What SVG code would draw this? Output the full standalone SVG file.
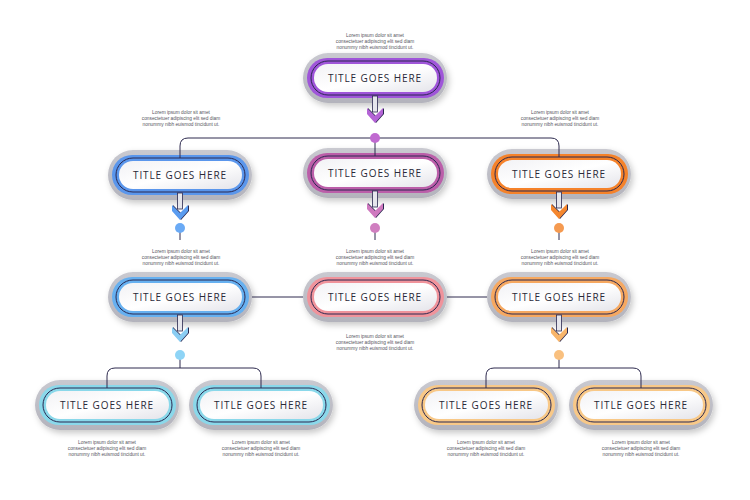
<svg xmlns="http://www.w3.org/2000/svg" xmlns:xlink="http://www.w3.org/1999/xlink" width="750" height="500" viewBox="0 0 750 500">
<style>
.title{font-family:"Open Sans","Liberation Sans",sans-serif;font-size:10px;letter-spacing:0.9px;fill:#2a2a38;text-anchor:middle}
.desc{font-family:"Liberation Sans",Arial,sans-serif;font-size:4.8px;fill:#555560;text-anchor:middle}
.outer{fill:url(#gGray);filter:url(#sh)}
.ring{fill:none;stroke:#2a2850;stroke-width:1}
.inner{fill:url(#gWhite)}
.line{fill:none;stroke:#2e2b4f;stroke-width:1}
</style>
<defs>
<linearGradient id="gGray" x1="0" y1="0" x2="0" y2="1">
<stop offset="0" stop-color="#c9c9d0"/><stop offset="1" stop-color="#b3b3bc"/>
</linearGradient>
<linearGradient id="gWhite" x1="0" y1="0" x2="1" y2="1">
<stop offset="0" stop-color="#f2f2f5"/><stop offset="0.5" stop-color="#ffffff"/><stop offset="1" stop-color="#e4e4ea"/>
</linearGradient>
<filter id="sh" x="-20%" y="-30%" width="140%" height="170%">
<feDropShadow dx="2" dy="3" stdDeviation="3" flood-color="#000" flood-opacity="0.22"/>
</filter>
<g id="arrow">
<rect x="-2.5" y="-2" width="5" height="16" fill="#e6e6ec" stroke="#2a2850" stroke-width="0.8"/>
<polygon points="-7,10 1,18 9,10 9,16 1,25 -7,16" fill="#2a2850"/>
<polygon points="-8,10 0,18 8,10 8,16 0,25 -8,16"/>
</g>
</defs>
<rect width="750" height="500" fill="#ffffff"/>

<g id="n-top">
<rect class="outer" x="303" y="53" width="144" height="50" rx="25"/>
<rect x="307" y="58" width="137" height="40" rx="20" fill="#9f55d9"/>
<rect class="ring" x="311" y="61" width="129" height="34" rx="17"/>
<rect class="inner" x="314" y="64" width="123" height="28" rx="14"/>
<text class="title" x="375" y="81.5">TITLE GOES HERE</text>
</g>
<g id="n-r1-blue">
<rect class="outer" x="108" y="150" width="144" height="50" rx="25"/>
<rect x="112" y="155" width="137" height="40" rx="20" fill="#5a96ec"/>
<rect class="ring" x="116" y="158" width="129" height="34" rx="17"/>
<rect class="inner" x="119" y="161" width="123" height="28" rx="14"/>
<text class="title" x="180" y="178.5">TITLE GOES HERE</text>
</g>
<g id="n-r1-pink">
<rect class="outer" x="303" y="148" width="144" height="50" rx="25"/>
<rect x="307" y="153" width="137" height="40" rx="20" fill="#bb5ea9"/>
<rect class="ring" x="311" y="156" width="129" height="34" rx="17"/>
<rect class="inner" x="314" y="159" width="123" height="28" rx="14"/>
<text class="title" x="375" y="176.5">TITLE GOES HERE</text>
</g>
<g id="n-r1-orange">
<rect class="outer" x="487" y="149" width="144" height="50" rx="25"/>
<rect x="491" y="154" width="137" height="40" rx="20" fill="#f5822a"/>
<rect class="ring" x="495" y="157" width="129" height="34" rx="17"/>
<rect class="inner" x="498" y="160" width="123" height="28" rx="14"/>
<text class="title" x="559" y="177.5">TITLE GOES HERE</text>
</g>
<g id="n-r2-blue">
<rect class="outer" x="108" y="272" width="144" height="50" rx="25"/>
<rect x="112" y="277" width="137" height="40" rx="20" fill="#66b0f0"/>
<rect class="ring" x="116" y="280" width="129" height="34" rx="17"/>
<rect class="inner" x="119" y="283" width="123" height="28" rx="14"/>
<text class="title" x="180" y="300.5">TITLE GOES HERE</text>
</g>
<g id="n-r2-red">
<rect class="outer" x="303" y="272" width="144" height="50" rx="25"/>
<rect x="307" y="277" width="137" height="40" rx="20" fill="#f0939b"/>
<rect class="ring" x="311" y="280" width="129" height="34" rx="17"/>
<rect class="inner" x="314" y="283" width="123" height="28" rx="14"/>
<text class="title" x="375" y="300.5">TITLE GOES HERE</text>
</g>
<g id="n-r2-orange">
<rect class="outer" x="487" y="272" width="144" height="50" rx="25"/>
<rect x="491" y="277" width="137" height="40" rx="20" fill="#f6a860"/>
<rect class="ring" x="495" y="280" width="129" height="34" rx="17"/>
<rect class="inner" x="498" y="283" width="123" height="28" rx="14"/>
<text class="title" x="559" y="300.5">TITLE GOES HERE</text>
</g>
<g id="n-r3-1">
<rect class="outer" x="35" y="380" width="144" height="50" rx="25"/>
<rect x="39" y="385" width="137" height="40" rx="20" fill="#8ad8ea"/>
<rect class="ring" x="43" y="388" width="129" height="34" rx="17"/>
<rect class="inner" x="46" y="391" width="123" height="28" rx="14"/>
<text class="title" x="107" y="408.5">TITLE GOES HERE</text>
</g>
<g id="n-r3-2">
<rect class="outer" x="189" y="380" width="144" height="50" rx="25"/>
<rect x="193" y="385" width="137" height="40" rx="20" fill="#8ad8ea"/>
<rect class="ring" x="197" y="388" width="129" height="34" rx="17"/>
<rect class="inner" x="200" y="391" width="123" height="28" rx="14"/>
<text class="title" x="261" y="408.5">TITLE GOES HERE</text>
</g>
<g id="n-r3-3">
<rect class="outer" x="414" y="380" width="144" height="50" rx="25"/>
<rect x="418" y="385" width="137" height="40" rx="20" fill="#f8c887"/>
<rect class="ring" x="422" y="388" width="129" height="34" rx="17"/>
<rect class="inner" x="425" y="391" width="123" height="28" rx="14"/>
<text class="title" x="486" y="408.5">TITLE GOES HERE</text>
</g>
<g id="n-r3-4">
<rect class="outer" x="569" y="380" width="144" height="50" rx="25"/>
<rect x="573" y="385" width="137" height="40" rx="20" fill="#f8c887"/>
<rect class="ring" x="577" y="388" width="129" height="34" rx="17"/>
<rect class="inner" x="580" y="391" width="123" height="28" rx="14"/>
<text class="title" x="641" y="408.5">TITLE GOES HERE</text>
</g>

<g id="connectors">
<path class="line" d="M180,158 V146 Q180,138 188,138 H551 Q559,138 559,146 V157"/>
<path class="line" d="M375,138 V156"/>
<path class="line" d="M180,230 V240 M375,230 V240 M559,230 V240"/>
<path class="line" d="M252,297 H303 M447,297 H487"/>
<path class="line" d="M180,357 V368 M107,388 V376 Q107,368 115,368 H253 Q261,368 261,376 V388"/>
<path class="line" d="M559,357 V368 M486,388 V376 Q486,368 494,368 H633 Q641,368 641,376 V388"/>
<use xlink:href="#arrow" x="375" y="98" fill="#b464d6"/>
<use xlink:href="#arrow" x="180" y="195" fill="#5a9cf0"/>
<use xlink:href="#arrow" x="375" y="193" fill="#cf79bf"/>
<use xlink:href="#arrow" x="559" y="194" fill="#f5872e"/>
<use xlink:href="#arrow" x="180" y="317" fill="#8acdf3"/>
<use xlink:href="#arrow" x="559" y="317" fill="#f8b56a"/>
<circle cx="375" cy="138" r="5" fill="#c06ad0"/>
<circle cx="180" cy="228" r="5" fill="#6aaaf5"/>
<circle cx="375" cy="228" r="5" fill="#d07fc0"/>
<circle cx="559" cy="228" r="5" fill="#f59a50"/>
<circle cx="180" cy="355" r="5" fill="#8ed4f6"/>
<circle cx="559" cy="355" r="5" fill="#f9c07f"/>
</g>

<g id="descriptions">
<text class="desc" x="375" y="37">Lorem ipsum dolor sit amet</text>
<text class="desc" x="375" y="43">consectetuer adipiscing elit sed diam</text>
<text class="desc" x="375" y="49">nonummy nibh euismod tincidunt ut.</text>
<text class="desc" x="181" y="114">Lorem ipsum dolor sit amet</text>
<text class="desc" x="181" y="120">consectetuer adipiscing elit sed diam</text>
<text class="desc" x="181" y="126">nonummy nibh euismod tincidunt ut.</text>
<text class="desc" x="560" y="114">Lorem ipsum dolor sit amet</text>
<text class="desc" x="560" y="120">consectetuer adipiscing elit sed diam</text>
<text class="desc" x="560" y="126">nonummy nibh euismod tincidunt ut.</text>
<text class="desc" x="181" y="253">Lorem ipsum dolor sit amet</text>
<text class="desc" x="181" y="259">consectetuer adipiscing elit sed diam</text>
<text class="desc" x="181" y="265">nonummy nibh euismod tincidunt ut.</text>
<text class="desc" x="375" y="253">Lorem ipsum dolor sit amet</text>
<text class="desc" x="375" y="259">consectetuer adipiscing elit sed diam</text>
<text class="desc" x="375" y="265">nonummy nibh euismod tincidunt ut.</text>
<text class="desc" x="560" y="253">Lorem ipsum dolor sit amet</text>
<text class="desc" x="560" y="259">consectetuer adipiscing elit sed diam</text>
<text class="desc" x="560" y="265">nonummy nibh euismod tincidunt ut.</text>
<text class="desc" x="375" y="338">Lorem ipsum dolor sit amet</text>
<text class="desc" x="375" y="344">consectetuer adipiscing elit sed diam</text>
<text class="desc" x="375" y="350">nonummy nibh euismod tincidunt ut.</text>
<text class="desc" x="107" y="444">Lorem ipsum dolor sit amet</text>
<text class="desc" x="107" y="450">consectetuer adipiscing elit sed diam</text>
<text class="desc" x="107" y="456">nonummy nibh euismod tincidunt ut.</text>
<text class="desc" x="261" y="444">Lorem ipsum dolor sit amet</text>
<text class="desc" x="261" y="450">consectetuer adipiscing elit sed diam</text>
<text class="desc" x="261" y="456">nonummy nibh euismod tincidunt ut.</text>
<text class="desc" x="486" y="444">Lorem ipsum dolor sit amet</text>
<text class="desc" x="486" y="450">consectetuer adipiscing elit sed diam</text>
<text class="desc" x="486" y="456">nonummy nibh euismod tincidunt ut.</text>
<text class="desc" x="641" y="444">Lorem ipsum dolor sit amet</text>
<text class="desc" x="641" y="450">consectetuer adipiscing elit sed diam</text>
<text class="desc" x="641" y="456">nonummy nibh euismod tincidunt ut.</text>
</g>
</svg>
